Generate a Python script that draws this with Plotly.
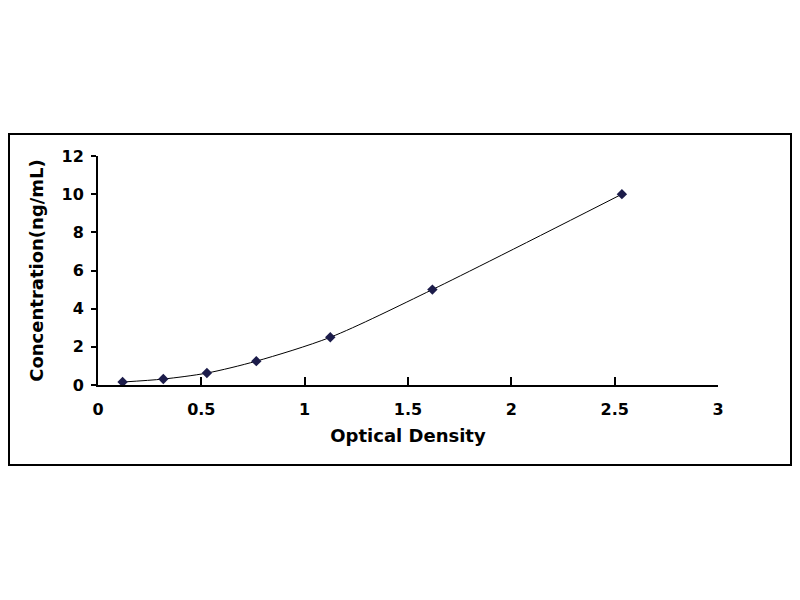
import plotly.graph_objects as go

# standard curve
optical_density = [0.119, 0.316, 0.527, 0.766, 1.124, 1.618, 2.535]
concentration = [0.156, 0.312, 0.625, 1.25, 2.5, 5, 10]

x_ticks = [0, 0.5, 1, 1.5, 2, 2.5, 3]
x_labels = ["0", "0.5", "1", "1.5", "2", "2.5", "3"]
y_ticks = [0, 2, 4, 6, 8, 10, 12]

# the page puts the figure 8px in from the window corner
OFF = 8
W, H = 800 - 2 * OFF, 600 - 2 * OFF
# plot area in window pixels
L, R, T, B = 98, 718, 156, 385


def px_to_paper_x(px):
    return (px - OFF - (L - OFF)) / (R - L)


def px_to_paper_y(py):
    return (B - py) / (B - T)


tick_font = dict(family="DejaVu Sans, sans-serif", size=16, color="black", weight="bold")
title_font = dict(family="DejaVu Sans, sans-serif", size=18, color="black", weight="bold")

fig = go.Figure(
    data=go.Scatter(
        x=optical_density,
        y=concentration,
        mode="lines+markers",
        line=dict(color="black", width=1, shape="spline", smoothing=0.8),
        marker=dict(symbol="diamond", size=8, color="#1c1c4a"),
        showlegend=False,
    )
)

fig.update_layout(
    width=W,
    height=H,
    margin=dict(l=L - OFF, r=W - (R - OFF), t=T - OFF, b=H - (B - OFF)),
    paper_bgcolor="white",
    plot_bgcolor="white",
    font=tick_font,
    xaxis=dict(
        range=[0, 3],
        tickvals=x_ticks,
        ticktext=x_labels,
        ticks="inside",
        ticklen=8,
        tickwidth=2,
        tickcolor="black",
        ticklabelstandoff=9,
        showline=True,
        linecolor="black",
        linewidth=2,
        showgrid=False,
        zeroline=False,
        tickfont=tick_font,
        title=dict(text="Optical Density", font=title_font, standoff=11),
    ),
    yaxis=dict(
        range=[0, 12],
        tickvals=y_ticks,
        ticks="outside",
        ticklen=5,
        tickwidth=2,
        tickcolor="black",
        ticklabelstandoff=4,
        showline=True,
        linecolor="black",
        linewidth=2,
        showgrid=False,
        zeroline=False,
        tickfont=tick_font,
        title=dict(text="Concentration(ng/mL)", font=title_font, standoff=13),
    ),
    shapes=[
        dict(
            type="rect",
            xref="paper",
            yref="paper",
            # outer frame, kept just inside the figure edges
            x0=px_to_paper_x(OFF + 1),
            x1=px_to_paper_x(OFF + W - 1),
            y0=px_to_paper_y(465),
            y1=px_to_paper_y(134),
            line=dict(color="black", width=2),
            fillcolor="rgba(0,0,0,0)",
            layer="below",
        )
    ],
)

fig.write_html("out.html")
